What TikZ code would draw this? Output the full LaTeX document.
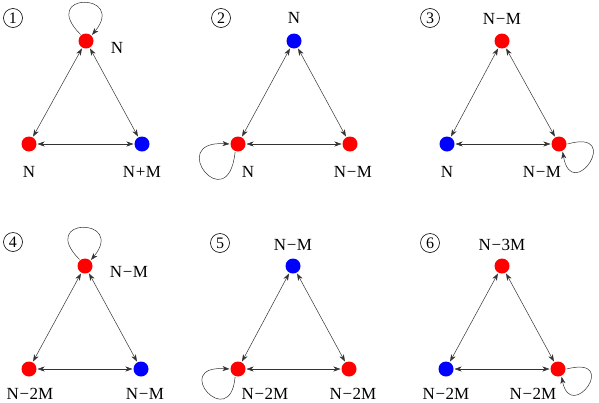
\documentclass[tikz,border=0pt]{standalone}
\usepackage{fontspec}
\setmainfont{Liberation Serif}
\usetikzlibrary{arrows.meta}
\newcommand{\mn}{\hspace{0.6pt}−\hspace{0.6pt}}
\newcommand{\pl}{\hspace{0.6pt}+\hspace{0.6pt}}
\tikzset{
  rdot/.style={circle,fill={rgb,255:red,255;green,0;blue,0},inner sep=0pt,minimum size=15pt,outer sep=1pt},
  bdot/.style={circle,fill={rgb,255:red,0;green,0;blue,255},inner sep=0pt,minimum size=15pt,outer sep=1pt},
  lbl/.style={font=\fontsize{17}{20}\selectfont,inner sep=0pt},
  num/.style={circle,draw,line width=0.6pt,minimum size=19pt,inner sep=0pt,font=\fontsize{16}{19}\selectfont},
  edge/.style={{Stealth[length=7pt,width=5pt,inset=2pt]}-{Stealth[length=7pt,width=5pt,inset=2pt]},line width=0.5pt,draw=black!80},
  loopline/.style={-{Stealth[length=7pt,width=5pt,inset=2pt]},line width=0.5pt,draw=black!80}
}
\begin{document}
\begin{tikzpicture}[x=1pt,y=-1pt]
\useasboundingbox (0,0) rectangle (599,402);
% Panel 1
\node[num] (k1) at (13,18) {1};
\node[rdot] (t1) at (86,41) {};
\node[rdot] (l1) at (29,144) {};
\node[bdot] (r1) at (142,144) {};
\node[lbl] (tl1) at (117,48) {N};
\node[lbl] (ll1) at (29,172) {N};
\node[lbl] (rl1) at (142,172) {N\pl M};
\draw[edge] (t1) -- (l1);
\draw[edge] (t1) -- (r1);
\draw[edge] (l1) -- (r1);
\draw[loopline] (t1.130) .. controls (38,-8) and (127,-8) .. (t1.45);
% Panel 2
\node[num] (k2) at (221,18) {2};
\node[bdot] (t2) at (294,41) {};
\node[rdot] (l2) at (238,144) {};
\node[rdot] (r2) at (350,144) {};
\node[lbl] (tl2) at (294,18) {N};
\node[lbl] (ll2) at (248,172) {N};
\node[lbl] (rl2) at (353,172) {N\mn M};
\draw[edge] (t2) -- (l2);
\draw[edge] (t2) -- (r2);
\draw[edge] (l2) -- (r2);
\draw[loopline] (l2.-110) .. controls (228,220) and (165,140) .. (l2.west);
% Panel 3
\node[num] (k3) at (430,18) {3};
\node[rdot] (t3) at (502,41) {};
\node[bdot] (l3) at (447,144) {};
\node[rdot] (r3) at (559,144) {};
\node[lbl] (tl3) at (502,19) {N\mn M};
\node[lbl] (ll3) at (447,172) {N};
\node[lbl] (rl3) at (542,172) {N\mn M};
\draw[edge] (t3) -- (l3);
\draw[edge] (t3) -- (r3);
\draw[edge] (l3) -- (r3);
\draw[loopline] (r3.east) .. controls (624,128) and (572,205) .. (r3.-65);
% Panel 4
\node[num] (k4) at (13,242) {4};
\node[rdot] (t4) at (85,266) {};
\node[rdot] (l4) at (29,369) {};
\node[bdot] (r4) at (141,369) {};
\node[lbl] (tl4) at (129,272) {N\mn M};
\node[lbl] (ll4) at (30,394) {N\mn 2M};
\node[lbl] (rl4) at (145,394) {N\mn M};
\draw[edge] (t4) -- (l4);
\draw[edge] (t4) -- (r4);
\draw[edge] (l4) -- (r4);
\draw[loopline] (t4.130) .. controls (37,217) and (126,217) .. (t4.45);
% Panel 5
\node[num] (k5) at (220,243) {5};
\node[bdot] (t5) at (293,266) {};
\node[rdot] (l5) at (238,369) {};
\node[rdot] (r5) at (349,369) {};
\node[lbl] (tl5) at (293,245) {N\mn M};
\node[lbl] (ll5) at (265,394) {N\mn 2M};
\node[lbl] (rl5) at (353,394) {N\mn 2M};
\draw[edge] (t5) -- (l5);
\draw[edge] (t5) -- (r5);
\draw[edge] (l5) -- (r5);
\draw[loopline] (l5.-110) .. controls (230,433) and (170,365) .. (l5.west);
% Panel 6
\node[num] (k6) at (430,243) {6};
\node[rdot] (t6) at (502,266) {};
\node[bdot] (l6) at (446,369) {};
\node[rdot] (r6) at (558,369) {};
\node[lbl] (tl6) at (502,245) {N\mn 3M};
\node[lbl] (ll6) at (446,394) {N\mn 2M};
\node[lbl] (rl6) at (533,394) {N\mn 2M};
\draw[edge] (t6) -- (l6);
\draw[edge] (t6) -- (r6);
\draw[edge] (l6) -- (r6);
\draw[loopline] (r6.east) .. controls (621,355) and (571,424) .. (r6.-65);
\end{tikzpicture}
\end{document}
